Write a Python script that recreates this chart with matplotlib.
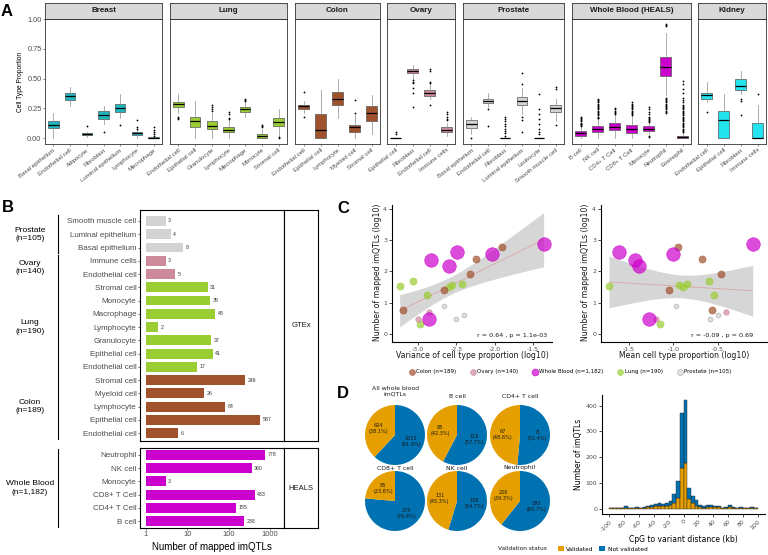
import numpy as np
import matplotlib
matplotlib.use("Agg")
import matplotlib.pyplot as plt
import matplotlib.transforms as mtransforms
from matplotlib.lines import Line2D
from matplotlib.patches import Patch
from matplotlib.ticker import NullLocator

W, H = 768, 555
SANS = "Liberation Sans"
GREY_TXT = "#4d4d4d"

# ---------------- panel A: box summaries (label, whislo, q1, med, q3, whishi, fliers)
breast = [
    ("Basal epithelium", 0.0, 0.084, 0.11, 0.14, 0.21, []),
    ("Endothelial cell", 0.27, 0.316, 0.35, 0.377, 0.43, []),
    ("Adipocyte", 0.01, 0.022, 0.035, 0.045, 0.055, [0.10]),
    ("Fibroblast", 0.12, 0.16, 0.19, 0.23, 0.265, [0.055]),
    ("Luminal epithelium", 0.17, 0.22, 0.255, 0.29, 0.37, [0.11]),
    ("Lymphocyte", 0.0, 0.022, 0.04, 0.053, 0.085, [0.15, 0.09, 0.08]),
    ("Macrophage", 0.0, 0.0, 0.0, 0.005, 0.01, [0.09, 0.07, 0.05, 0.03, 0.02]),
]
lung = [
    ("Endothelial cell", 0.21, 0.26, 0.285, 0.307, 0.37, [0.18, 0.17, 0.16]),
    ("Epithelial cell", 0.0, 0.09, 0.14, 0.18, 0.31, []),
    ("Granulocyte", 0.0, 0.075, 0.105, 0.14, 0.21, [0.28, 0.26, 0.24, 0.23]),
    ("Lymphocyte", 0.0, 0.048, 0.065, 0.09, 0.15, [0.22, 0.2, 0.17, 0.16]),
    ("Macrophage", 0.18, 0.22, 0.24, 0.26, 0.30, [0.33, 0.32, 0.31]),
    ("Monocyte", 0.0, 0.0, 0.015, 0.033, 0.075, [0.11, 0.10, 0.09]),
    ("Stromal cell", 0.02, 0.10, 0.135, 0.17, 0.24, [0.0, 0.005]),
]
colon = [
    ("Endothelial cell", 0.21, 0.245, 0.265, 0.28, 0.31, [0.39, 0.18]),
    ("Epithelial cell", 0.0, 0.0, 0.07, 0.205, 0.40, []),
    ("Lymphocyte", 0.17, 0.275, 0.33, 0.385, 0.50, []),
    ("Myeloid cell", 0.0, 0.055, 0.09, 0.11, 0.19, [0.32, 0.21]),
    ("Stromal cell", 0.03, 0.14, 0.21, 0.265, 0.36, []),
]
ovary = [
    ("Epithelial cell", 0.0, 0.0, 0.0, 0.004, 0.01, [0.05, 0.03]),
    ("Fibroblast", 0.5, 0.545, 0.56, 0.58, 0.61, [0.49, 0.47, 0.46, 0.42, 0.38, 0.26]),
    ("Endothelial cell", 0.33, 0.35, 0.38, 0.40, 0.45, [0.58, 0.56, 0.47, 0.46, 0.28]),
    ("Immune cells", 0.02, 0.048, 0.07, 0.09, 0.13, [0.22, 0.2, 0.18, 0.16, 0.15]),
]
prostate = [
    ("Basal epithelium", 0.03, 0.084, 0.115, 0.148, 0.18, [0.0]),
    ("Endothelial cell", 0.26, 0.293, 0.31, 0.33, 0.38, [0.24, 0.10]),
    ("Fibroblast", 0.0, 0.0, 0.0, 0.004, 0.01,
     [0.18, 0.16, 0.14, 0.12, 0.10, 0.08, 0.06, 0.04, 0.02]),
    ("Luminal epithelium", 0.2, 0.274, 0.31, 0.344, 0.42, [0.55, 0.45, 0.18, 0.15, 0.05]),
    ("Leukocyte", 0.0, 0.0, 0.0, 0.004, 0.01,
     [0.37, 0.24, 0.2, 0.16, 0.12, 0.08, 0.05, 0.03]),
    ("Smooth muscle cell", 0.14, 0.215, 0.25, 0.28, 0.33, [0.43, 0.41, 0.11]),
]
whole_blood = [
    ("B cell", 0.0, 0.02, 0.04, 0.056, 0.10,
     [0.105, 0.11, 0.115, 0.12, 0.13, 0.14, 0.15, 0.16, 0.17, 0.18]),
    ("NK cell", 0.0, 0.047, 0.08, 0.10, 0.16,
     [0.165, 0.17, 0.18, 0.19, 0.2, 0.21, 0.22, 0.23, 0.24, 0.25, 0.26, 0.27,
      0.28, 0.29, 0.3, 0.31, 0.32, 0.33]),
    ("CD4+ T Cell", 0.0, 0.064, 0.095, 0.13, 0.20, [0.205, 0.21, 0.22, 0.23, 0.24, 0.25]),
    ("CD8+ T Cell", 0.0, 0.042, 0.08, 0.11, 0.19,
     [0.195, 0.2, 0.21, 0.22, 0.23, 0.24, 0.25, 0.26, 0.27, 0.28, 0.29, 0.3]),
    ("Monocyte", 0.03, 0.06, 0.08, 0.098, 0.13,
     [0.135, 0.14, 0.15, 0.16, 0.17, 0.18, 0.2, 0.22, 0.24, 0.26, 0.02, 0.01]),
    ("Neutrophil", 0.36, 0.52, 0.60, 0.68, 0.88,
     [0.95, 0.96, 0.94, 0.34, 0.33, 0.32, 0.31, 0.3, 0.29, 0.28, 0.27, 0.26,
      0.25, 0.24, 0.23, 0.22, 0.21]),
    ("Eosinophil", 0.0, 0.0, 0.008, 0.02, 0.05,
     [0.055, 0.06, 0.07, 0.08, 0.09, 0.1, 0.11, 0.12, 0.13, 0.14, 0.15, 0.16,
      0.17, 0.18, 0.19, 0.2, 0.21, 0.22, 0.23, 0.24, 0.25, 0.26, 0.27, 0.28,
      0.3, 0.32, 0.34, 0.38, 0.41, 0.45, 0.48]),
]
kidney = [
    ("Endothelial cell", 0.30, 0.327, 0.36, 0.38, 0.47, [0.22]),
    ("Epithelial cell", 0.0, 0.0, 0.15, 0.23, 0.37, []),
    ("Fibroblast", 0.37, 0.40, 0.44, 0.50, 0.56, [0.33, 0.31, 0.19]),
    ("Immune cells", 0.0, 0.0, 0.0, 0.125, 0.28, [0.37]),
]

# ---------------- panel B
gtex_labels = ["Smooth muscle cell", "Luminal epithelium", "Basal epithelium",
               "Immune cells", "Endothelial cell",
               "Stromal cell", "Monocyte", "Macrophage", "Lymphocyte", "Granulocyte",
               "Epithelial cell", "Endothelial cell",
               "Stromal cell", "Myeloid cell", "Lymphocyte", "Epithelial cell",
               "Endothelial cell"]
gtex_counts = [3, 4, 8, 3, 5, 31, 35, 48, 2, 37, 41, 17, 246, 26, 84, 587, 6]
gtex_tissue = ["Prostate"] * 3 + ["Ovary"] * 2 + ["Lung"] * 7 + ["Colon"] * 5
heals_labels = ["Neutrophil", "NK cell", "Monocyte", "CD8+ T Cell", "CD4+ T Cell", "B cell"]
heals_counts = [778, 360, 3, 433, 155, 238]
gtex_groups = [("Prostate\n(n=105)", 0, 2), ("Ovary\n(n=140)", 3, 4),
               ("Lung\n(n=190)", 5, 11), ("Colon\n(n=189)", 12, 16)]
heals_groups = [("Whole Blood\n(n=1,182)", 0, 5)]

# ---------------- panel C (one row per cell type)
c_tissue = ["Lung"] * 7 + ["Colon"] * 5 + ["Ovary"] * 2 + ["Prostate"] * 3 + ["Whole Blood"] * 6
c_count = [35, 48, 17, 31, 37, 41, 2,
           6, 26, 84, 246, 587,
           3, 5,
           8, 3, 4,
           238, 155, 433, 360, 778, 3]
c_variance = [-3.24, -3.06, -2.88, -2.60, -2.56, -2.43, -2.98,
              -3.20, -2.66, -2.32, -2.24, -1.90,
              -3.00, -2.86,
              -2.66, -2.51, -2.40,
              -2.83, -2.60, -2.49, -2.04, -1.36, -2.86]
c_mean = [-1.72, -0.60, -0.54, -0.89, -0.94, -0.85, -1.15,
          -0.57, -1.05, -0.47, -0.68, -0.95,
          -1.19, -0.41,
          -0.97, -0.59, -0.50,
          -1.43, -1.38, -1.61, -1.00, -0.11, -1.27]
legend_tissues = ["Colon", "Ovary", "Whole Blood", "Lung", "Prostate"]
legend_labels = ["Colon (n=189)", "Ovary (n=140)", "Whole Blood (n=1,182)",
                 "Lung (n=190)", "Prostate (n=105)"]

# ---------------- panel D
pie_titles = ["All whole blood\nimQTLs", "B cell", "CD4+ T cell",
              "CD8+ T cell", "NK cell", "Neutrophil"]
pie_validated = [624, 85, 67, 85, 131, 256]
pie_not_validated = [1015, 116, 71, 275, 158, 395]

hist_edges = np.arange(-100, 105, 5)
hist_validated = [1, 1, 1, 1, 2, 1, 2, 4, 2, 2, 5, 7, 9, 10, 9, 12, 15, 22, 40, 157,
                  178, 37, 22, 12, 5, 4, 5, 6, 5, 6, 2, 2, 8, 2, 1, 2, 1, 1, 3, 1]
hist_not_validated = [2, 2, 3, 2, 10, 2, 2, 2, 2, 3, 7, 8, 9, 10, 9, 11, 15, 36, 68, 213,
                      244, 43, 26, 20, 10, 8, 9, 9, 7, 5, 2, 3, 6, 3, 2, 3, 2, 2, 2, 2]

tissue_colors = {"Breast": "#1fb6c1", "Lung": "#9acd32", "Colon": "#a0522d",
                 "Ovary": "#cd8a9b", "Prostate": "#d3d3d3", "Whole Blood": "#cc00cc",
                 "Kidney": "#22e3ee"}
ORANGE = "#e69f00"
BLUE = "#0072b2"

fig = plt.figure(figsize=(W / 100, H / 100), dpi=100)


def rect(x0, y0, x1, y1):
    return [x0 / W, 1 - y1 / H, (x1 - x0) / W, (y1 - y0) / H]


def ftext(x, y, s, **kw):
    return fig.text(x / W, 1 - y / H, s, **kw)


# ================= A =================
panel_a = [("Breast", breast, "Breast", 45, 162), ("Lung", lung, "Lung", 170, 287),
           ("Colon", colon, "Colon", 295, 380), ("Ovary", ovary, "Ovary", 387, 455),
           ("Prostate", prostate, "Prostate", 463, 564),
           ("Whole Blood (HEALS)", whole_blood, "Whole Blood", 572, 691),
           ("Kidney", kidney, "Kidney", 698, 766)]

for k, (title, rows, tis, x0, x1) in enumerate(panel_a):
    ax = fig.add_axes(rect(x0, 19, x1, 144))
    n = len(rows)
    stats = [dict(label=r[0], whislo=r[1], q1=r[2], med=r[3], q3=r[4], whishi=r[5],
                  fliers=r[6]) for r in rows]
    ax.bxp(stats, positions=np.arange(n), widths=0.62, patch_artist=True, showcaps=False,
           boxprops=dict(facecolor=tissue_colors[tis], edgecolor="#555555", linewidth=0.5),
           whiskerprops=dict(color="#8c8c8c", linewidth=0.5),
           medianprops=dict(color="black", linewidth=0.9),
           flierprops=dict(marker="o", markersize=1.3, markerfacecolor="black",
                           markeredgecolor="none"))
    ax.set_xlim(-0.5, n - 0.5)
    ax.set_ylim(-0.05, 1.0)
    ax.set_xticks(np.arange(n))
    ax.set_xticklabels([r[0] for r in rows], rotation=38, ha="right",
                       rotation_mode="anchor", fontsize=4.3, color=GREY_TXT, family=SANS)
    ax.tick_params(axis="x", length=1.5, width=0.4, pad=1, color="#333333")
    ax.set_yticks([0, 0.25, 0.5, 0.75, 1.0])
    if k == 0:
        ax.set_yticklabels(["0.00", "0.25", "0.50", "0.75", "1.00"], fontsize=5.3,
                           color=GREY_TXT, family=SANS)
        ax.tick_params(axis="y", length=1.5, width=0.4, pad=1, color="#333333")
        ax.set_ylabel("Cell Type Proportion", fontsize=4.8, family=SANS, labelpad=2)
    else:
        ax.set_yticklabels([])
        ax.tick_params(axis="y", length=0)
    for sp in ax.spines.values():
        sp.set_color("#333333")
        sp.set_linewidth(0.6)

    sx = fig.add_axes(rect(x0, 3, x1, 19))
    sx.set_facecolor("#d9d9d9")
    sx.set_xticks([])
    sx.set_yticks([])
    for sp in sx.spines.values():
        sp.set_color("#333333")
        sp.set_linewidth(0.6)
    sx.text(0.5, 0.5, title, ha="center", va="center", fontsize=5.8, fontweight="bold",
            family=SANS, color="#1a1a1a", transform=sx.transAxes)


# ================= B =================
def bar_panel(y0, y1, labels, counts, colors, ylim, groups, strip, bottom):
    ax = fig.add_axes(rect(140, y0, 284, y1))
    n = len(counts)
    pos = np.arange(n)
    ax.barh(pos, np.array(counts) - 1, left=1, height=0.75, color=colors, edgecolor="none")
    for p, c in zip(pos, counts):
        ax.text(c * 1.15, p, str(c), fontsize=3.8, va="center", ha="left",
                color="#333333", family=SANS)
    ax.set_xscale("log")
    ax.set_xlim(0.716, 2190)
    ax.set_ylim(*ylim)
    ax.xaxis.set_minor_locator(NullLocator())
    ax.set_yticks(pos)
    ax.set_yticklabels(labels, fontsize=5.8, color=GREY_TXT, family=SANS)
    ax.tick_params(axis="y", length=1.5, width=0.4, pad=1)
    if bottom:
        ax.set_xticks([1, 10, 100, 1000])
        ax.set_xticklabels(["1", "10", "100", "1000"], fontsize=5.5, color=GREY_TXT,
                           family=SANS)
        ax.tick_params(axis="x", length=1.5, width=0.4, pad=1)
    else:
        ax.set_xticks([])
    for sp in ax.spines.values():
        sp.set_color("black")
        sp.set_linewidth(0.8)

    sx = fig.add_axes(rect(284, y0, 318, y1))
    sx.set_xticks([])
    sx.set_yticks([])
    for sp in sx.spines.values():
        sp.set_color("black")
        sp.set_linewidth(0.8)
    sx.text(0.5, 0.5, strip, ha="center", va="center", fontsize=5.5, family=SANS,
            color="#1a1a1a", transform=sx.transAxes)

    tr = mtransforms.blended_transform_factory(fig.transFigure, ax.transData)
    for name, a, b in groups:
        fig.add_artist(Line2D([58 / W, 58 / W], [a - 0.45, b + 0.45], transform=tr,
                              color="black", lw=0.8))
        fig.text(30 / W, (a + b) / 2, name, transform=tr, ha="center", va="center",
                 fontsize=6, family=SANS, linespacing=1.25)
    return ax


bar_panel(210, 441, gtex_labels, gtex_counts, [tissue_colors[t] for t in gtex_tissue],
          (16.6, -0.83), gtex_groups, "GTEx", False)
bar_panel(448, 528, heals_labels, heals_counts, [tissue_colors["Whole Blood"]] * 6,
          (5.53, -0.53), heals_groups, "HEALS", True)
ftext(212, 547, "Number of mapped imQTLs", ha="center", va="center", fontsize=7,
      family=SANS)

# ================= C =================
c_sizes = {"Whole Blood": 95, "Colon": 26, "Lung": 26, "Ovary": 16, "Prostate": 12}
c_y = np.log10(np.array(c_count, dtype=float))


def fit_band(x, y, xs):
    X = np.column_stack([np.ones_like(x), x])
    beta = np.linalg.lstsq(X, y, rcond=None)[0]
    resid = y - X @ beta
    s2 = resid @ resid / (len(x) - 2)
    cov = s2 * np.linalg.inv(X.T @ X)
    Xs = np.column_stack([np.ones_like(xs), xs])
    fit = Xs @ beta
    se = np.sqrt(np.einsum("ij,jk,ik->i", Xs, cov, Xs))
    return fit, se


def scatter_panel(x0, x1, xvals, xlim, xticks, xlabel, annot, annot_x):
    ax = fig.add_axes(rect(x0, 205, x1, 342))
    xv = np.array(xvals)
    xs = np.linspace(xv.min(), xv.max(), 80)
    fit, se = fit_band(xv, c_y, xs)
    ax.fill_between(xs, fit - 2.08 * se, fit + 2.08 * se, color="#999999", alpha=0.4,
                    lw=0, zorder=1)
    ax.plot(xs, fit, color="#e06060", lw=0.6, ls=(0, (1, 1)), alpha=0.8, zorder=2)
    for tis in ["Lung", "Colon", "Ovary", "Prostate", "Whole Blood"]:
        m = np.array([t == tis for t in c_tissue])
        col = tissue_colors[tis]
        edge = "#9a9a9a" if tis == "Prostate" else col
        ax.scatter(xv[m], c_y[m], s=c_sizes[tis], facecolor=col, edgecolor=edge,
                   alpha=0.7, linewidth=0.5, zorder=3)
    ax.set_xlim(*xlim)
    ax.set_ylim(-0.26, 4.13)
    ax.set_xticks(xticks)
    ax.set_xticklabels([f"{t:.1f}" for t in xticks])
    ax.set_yticks([0, 1, 2, 3, 4])
    ax.tick_params(labelsize=4.5, labelcolor=GREY_TXT, length=2, width=0.5, pad=1.5)
    for s in ["top", "right"]:
        ax.spines[s].set_visible(False)
    for s in ["left", "bottom"]:
        ax.spines[s].set_linewidth(0.8)
    ax.text(annot_x, 0.05, annot, transform=ax.transAxes, ha="right", va="center",
            fontsize=4.6, color="#1a1a1a")
    xc = (x0 + x1) / 2
    ftext(xc, 356, xlabel, ha="center", va="center", fontsize=5.6, color="#1a1a1a")
    ftext(x0 - 15, 272, "Number of mapped imQTLs (log10)", ha="center", va="center",
          rotation=90, fontsize=5.6, color="#1a1a1a")
    return ax


scatter_panel(392, 552, c_variance, (-3.34, -1.25), [-3.0, -2.5, -2.0, -1.5],
              "Variance of cell type proportion (log10)", "r = 0.64 , p = 1.1e-03", 0.97)
scatter_panel(601, 767, c_mean, (-1.81, 0.05), [-1.5, -1.0, -0.5],
              "Mean cell type proportion (log10)", "r = -0.09 , p = 0.69", 0.92)

c_handles = []
for tis in legend_tissues:
    col = tissue_colors[tis]
    c_handles.append(Line2D([], [], ls="none", marker="o",
                            markersize=5 if tis == "Whole Blood" else 4.3,
                            markerfacecolor=col, alpha=0.7,
                            markeredgecolor="#9a9a9a" if tis == "Prostate" else col,
                            markeredgewidth=0.5))
fig.legend(c_handles, legend_labels, loc="center", bbox_to_anchor=(570 / W, 1 - 372 / H),
           ncol=5, frameon=False, fontsize=4, handletextpad=0.3, columnspacing=2.5,
           borderpad=0, handlelength=1.0)

# ================= D =================
pie_centers = [(395, 435), (457, 435), (520, 435), (395, 501), (457, 501), (520, 501)]
for (cx, cy), title, v, nv in zip(pie_centers, pie_titles, pie_validated, pie_not_validated):
    ax = fig.add_axes(rect(cx - 30, cy - 30, cx + 30, cy + 30))
    ax.pie([nv, v], colors=[BLUE, ORANGE], startangle=90, counterclock=False, radius=1,
           wedgeprops=dict(linewidth=0))
    ax.set_xlim(-1, 1)
    ax.set_ylim(-1, 1)
    ax.set_aspect("equal")
    ax.axis("off")
    tot = v + nv
    f_nv = nv / tot
    a_nv = np.deg2rad(90 - f_nv * 180)
    a_v = np.deg2rad(90 - f_nv * 360 - (v / tot) * 180)
    for ang, cnt in [(a_nv, nv), (a_v, v)]:
        ax.text(0.58 * np.cos(ang), 0.58 * np.sin(ang),
                f"{cnt}\n({100 * cnt / tot:.1f}%)", ha="center", va="center",
                fontsize=3.6, color="#1a1a1a", linespacing=1.3)
    ty = 391 if cy < 470 else 468
    if "\n" not in title:
        ty = 396 if cy < 470 else 468
    ftext(cx, ty, title, ha="center", va="center", fontsize=4.4, color="#1a1a1a",
          linespacing=1.2)

ax = fig.add_axes(rect(602, 395, 765, 514))
ax.bar(hist_edges[:-1], hist_validated, width=5, align="edge", color=ORANGE,
       edgecolor="#222222", linewidth=0.3)
ax.bar(hist_edges[:-1], hist_not_validated, bottom=hist_validated, width=5, align="edge",
       color=BLUE, edgecolor="#222222", linewidth=0.3)
ax.set_xlim(-110, 110)
ax.set_ylim(-21, 441)
ax.set_xticks(np.arange(-100, 101, 20))
ax.set_xticklabels([str(t) for t in range(-100, 101, 20)], rotation=45, ha="right",
                   rotation_mode="anchor")
ax.set_yticks([0, 100, 200, 300, 400])
ax.tick_params(labelsize=4.5, labelcolor=GREY_TXT, length=2, width=0.5, pad=1.5)
for s in ["top", "right"]:
    ax.spines[s].set_visible(False)
for s in ["left", "bottom"]:
    ax.spines[s].set_linewidth(0.8)
ax.set_xlabel("CpG to variant distance (kb)", fontsize=5.5, labelpad=2)
ax.set_ylabel("Number of imQTLs", fontsize=5.5, labelpad=2)

ftext(498, 549, "Validation status", ha="left", va="center", fontsize=4.2,
      color="#1a1a1a")
fig.legend([Patch(facecolor=ORANGE), Patch(facecolor=BLUE)], ["Validated", "Not validated"],
           loc="center left", bbox_to_anchor=(555 / W, 1 - 549 / H), ncol=2,
           frameon=False, fontsize=4.2, handlelength=1.0, handleheight=1.0,
           handletextpad=0.4, columnspacing=1.0, borderpad=0)

# panel letters
for letter, x, y in [("A", 1, 11), ("B", 2, 208), ("C", 337, 209), ("D", 337, 393)]:
    ftext(x, y, letter, ha="left", va="center", fontsize=12, fontweight="bold",
          family=SANS)

fig.savefig("out.png", dpi=100)
